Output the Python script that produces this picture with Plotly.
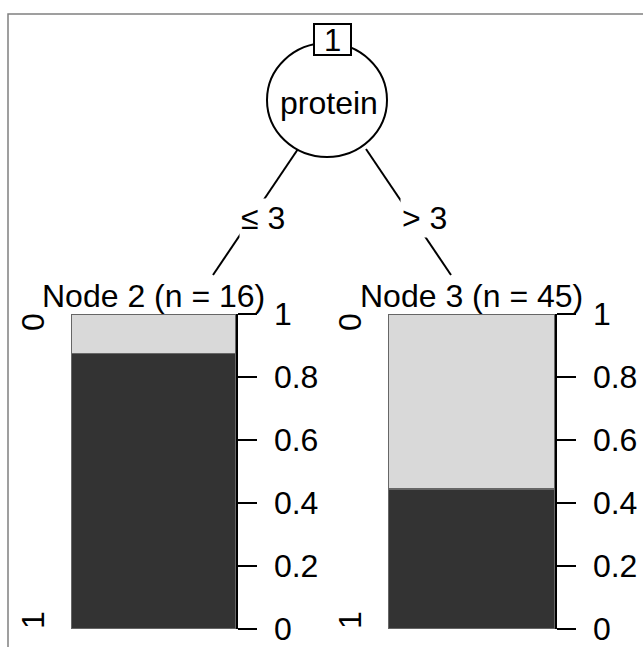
import plotly.graph_objects as go

# ---- data ----
node_ids = [2, 3]
node_n = [16, 45]
class0_counts = [2, 25]
class1_counts = [14, 20]
class_levels = ["0", "1"]
split_var = "protein"
split_labels = ["\u2264 3", "> 3"]
tick_vals = [0, 0.2, 0.4, 0.6, 0.8, 1]
tick_text = ["0", "0.2", "0.4", "0.6", "0.8", "1"]

W, H = 643, 647
FONT = "Liberation Sans, Arial, Helvetica, sans-serif"
FS = 32


def px(x):
    return x / W


def py(y):
    return 1 - y / H


fig = go.Figure()

# panel geometry (pixels)
panel_left = [71, 388]
panel_right = [236, 555]
panel_top, panel_bottom = 314, 629

for i, nid in enumerate(node_ids):
    xa = "x%d" % (i + 2)
    ya = "y%d" % (i + 2)
    tot = class0_counts[i] + class1_counts[i]
    p1 = class1_counts[i] / tot
    p0 = class0_counts[i] / tot
    fig.add_trace(go.Bar(x=[0], y=[p1], width=[1], marker=dict(color="#333333", line=dict(color="#666666", width=1.5)),
                         xaxis=xa, yaxis=ya, showlegend=False, hoverinfo="skip"))
    fig.add_trace(go.Bar(x=[0], y=[p0], width=[1], marker=dict(color="#d9d9d9", line=dict(color="#666666", width=1.5)),
                         xaxis=xa, yaxis=ya, showlegend=False, hoverinfo="skip"))
    fig.update_layout(**{
        "xaxis%d" % (i + 2): dict(domain=[px(panel_left[i]), px(panel_right[i])], range=[-0.5, 0.5],
                                  visible=False, anchor=ya, fixedrange=True, automargin=False),
        "yaxis%d" % (i + 2): dict(domain=[py(panel_bottom), py(panel_top)], range=[0, 1], anchor=xa,
                                  side="right", showline=True, linecolor="black", linewidth=1.5,
                                  ticks="outside", ticklen=19, tickwidth=1.5, tickcolor="black",
                                  tickvals=tick_vals, ticktext=tick_text, showgrid=False, zeroline=False,
                                  tickfont=dict(family=FONT, size=FS, color="black"),
                                  ticklabelstandoff=11, ticklabeloverflow="allow",
                                  fixedrange=True, automargin=False),
    })
    cx = (panel_left[i] + panel_right[i]) / 2
    fig.add_annotation(x=px(cx), y=py(296), xref="paper", yref="paper",
                       text="Node %d (n = %d)" % (nid, node_n[i]), showarrow=False,
                       font=dict(family=FONT, size=FS, color="black"), xanchor="center", yanchor="middle")
    fig.add_annotation(x=px(panel_left[i] - 38), y=py(322), xref="paper", yref="paper",
                       text=class_levels[0], textangle=-90, showarrow=False,
                       font=dict(family=FONT, size=FS, color="black"), xanchor="center", yanchor="middle")
    fig.add_annotation(x=px(panel_left[i] - 38), y=py(620), xref="paper", yref="paper",
                       text=class_levels[1], textangle=-90, showarrow=False,
                       font=dict(family=FONT, size=FS, color="black"), xanchor="center", yanchor="middle")

# base hidden axes
fig.update_layout(xaxis=dict(visible=False, domain=[0, 1], automargin=False),
                  yaxis=dict(visible=False, domain=[0, 1], automargin=False))

shapes = []
# outer frame
shapes.append(dict(type="rect", xref="paper", yref="paper", x0=px(8), x1=px(700), y0=py(700), y1=py(14),
                   line=dict(color="#808080", width=1.5), fillcolor="rgba(0,0,0,0)"))
# edges
edges = [((298, 149), (213, 275)), ((366, 149), (451, 275))]
for (a, b) in edges:
    shapes.append(dict(type="line", xref="paper", yref="paper", x0=px(a[0]), y0=py(a[1]), x1=px(b[0]), y1=py(b[1]),
                       line=dict(color="black", width=2)))
# root ellipse
cxr, cyr, rx, ry = 327, 100, 60, 57
shapes.append(dict(type="circle", xref="paper", yref="paper", x0=px(cxr - rx), x1=px(cxr + rx),
                   y0=py(cyr + ry), y1=py(cyr - ry), line=dict(color="black", width=2), fillcolor="white"))
# id box
shapes.append(dict(type="rect", xref="paper", yref="paper", x0=px(314), x1=px(351), y0=py(55), y1=py(24),
                   line=dict(color="black", width=2), fillcolor="white"))
fig.update_layout(shapes=shapes)

fig.add_annotation(x=px(332.5), y=py(40), xref="paper", yref="paper", text="1", showarrow=False,
                   font=dict(family=FONT, size=31, color="black"), xanchor="center", yanchor="middle")
fig.add_annotation(x=px(cxr + 2), y=py(103), xref="paper", yref="paper", text=split_var, showarrow=False,
                   font=dict(family=FONT, size=FS, color="black"), xanchor="center", yanchor="middle")
label_pos = [(263, 218), (424, 218)]
for lab, (lx, ly) in zip(split_labels, label_pos):
    fig.add_annotation(x=px(lx), y=py(ly), xref="paper", yref="paper", text=lab, showarrow=False,
                       font=dict(family=FONT, size=FS, color="black"), xanchor="center", yanchor="middle",
                       bgcolor="white", borderpad=1)

fig.update_layout(width=W, height=H, margin=dict(l=0, r=0, t=0, b=0, pad=0, autoexpand=False),
                  barmode="stack", bargap=0,
                  plot_bgcolor="white", paper_bgcolor="white", showlegend=False)

fig.write_html("out.html", include_plotlyjs=True, config={"displayModeBar": False, "staticPlot": True},
               post_script="document.body.style.margin='0';document.body.style.overflow='hidden';")
